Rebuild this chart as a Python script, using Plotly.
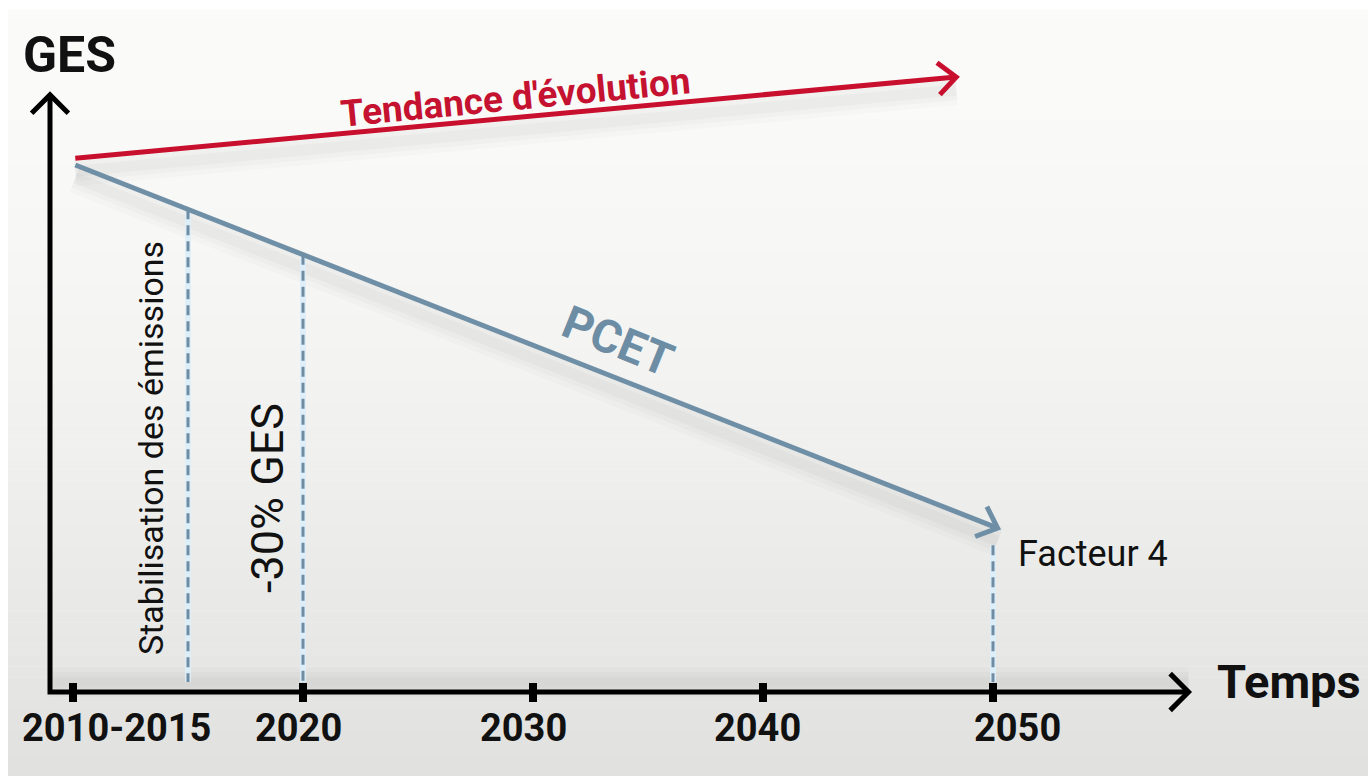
import numpy as np
import plotly.graph_objects as go

# ---------------- data ----------------
tick_years = [2010, 2020, 2030, 2040, 2050]
tick_labels = ["2010-2015", "2020", "2030", "2040", "2050"]
tick_label_shift_px = [43, -5, -10, -6, 24]

trend_years = [2010.1, 2048.4]
trend_values = [101.3, 116.7]
trend_label = "Tendance d'évolution"

pcet_years = [2010.1, 2050.2]
pcet_values = [100.0, 31.1]
pcet_label = "PCET"

milestone_years = [2015, 2020, 2050]
milestone_labels = ["Stabilisation des émissions", "-30% GES", "Facteur 4"]

axis_x_start = 2009.0
axis_x_end = 2058.5
axis_y_top = 113.3
y_title = "GES"
x_title = "Temps"

# ---------------- scales (pixel geometry) ----------------
W, H = 1368, 778
PX_PER_YEAR = 23.0
PX_PER_UNIT = 5.27
X_MIN = 2010 - 73 / PX_PER_YEAR
X_MAX = X_MIN + W / PX_PER_YEAR
Y_MIN = (692 - H) / PX_PER_UNIT
Y_MAX = Y_MIN + H / PX_PER_UNIT


def to_px(x, y):
    return (x - X_MIN) * PX_PER_YEAR, (y - Y_MIN) * PX_PER_UNIT


def from_px(px, py):
    return px / PX_PER_YEAR + X_MIN, py / PX_PER_UNIT + Y_MIN


def chevron(prev, tip, length=24, ang=42):
    """open arrow head at tip, pointing away from prev"""
    p0 = np.array(to_px(*prev))
    p1 = np.array(to_px(*tip))
    d = (p1 - p0) / np.linalg.norm(p1 - p0)
    xs, ys = [], []
    for s in (1, -1):
        a = np.radians(ang * s)
        r = np.array([[np.cos(a), -np.sin(a)], [np.sin(a), np.cos(a)]]) @ (-d)
        e = p1 + r * length
        ex, ey = from_px(*e)
        xs.append(ex)
        ys.append(ey)
    return [xs[0], tip[0], xs[1]], [ys[0], tip[1], ys[1]]


fig = go.Figure()

# ---------------- background gradient panel ----------------
shapes = []
n_bands = 70
top_c = np.array([251, 251, 250])
bot_c = np.array([225, 226, 223])
p_left = 8 / W
p_top = 1 - 10 / H
p_bot = 2 / H
for i in range(n_bands):
    t = i / (n_bands - 1)
    c = top_c + (bot_c - top_c) * (t ** 1.6)
    y1 = p_top - (p_top - p_bot) * i / n_bands
    y0 = p_top - (p_top - p_bot) * (i + 1) / n_bands
    shapes.append(dict(type="rect", xref="paper", yref="paper", x0=p_left, x1=1,
                       y0=y0, y1=y1 + 0.0005, line=dict(width=0),
                       fillcolor="rgb(%d,%d,%d)" % tuple(c.astype(int)), layer="below"))


def shadow(xs, ys, dy_px=13):
    dy = dy_px / PX_PER_UNIT
    for w, a in [(30, 0.018), (20, 0.025), (11, 0.03)]:
        fig.add_trace(go.Scatter(x=xs, y=[v - dy for v in ys], mode="lines",
                                 line=dict(color="rgba(60,60,60,%g)" % a, width=w),
                                 hoverinfo="skip", showlegend=False))


# shadows
shadow(trend_years, trend_values)
shadow(pcet_years, pcet_values)
shadow([axis_x_start, axis_x_end], [0, 0], dy_px=-10)

# ---------------- dashed milestone lines ----------------
RED = "#c8102e"
BLUE = "#6f8fa7"
DASH = "#6f8ca3"
for i, m in enumerate(milestone_years):
    top = float(np.interp(m, pcet_years, pcet_values))
    if i == len(milestone_years) - 1:
        top -= 3.6
    bottom = (692 - 682) / PX_PER_UNIT
    fig.add_trace(go.Scatter(x=[m, m], y=[top, bottom], mode="lines",
                             line=dict(color="rgba(220,238,250,0.9)", width=6),
                             hoverinfo="skip", showlegend=False))
    fig.add_trace(go.Scatter(x=[m, m], y=[top, bottom], mode="lines",
                             line=dict(color=DASH, width=3, dash="10px,6px"),
                             hoverinfo="skip", showlegend=False))

# ---------------- trend (red) ----------------
fig.add_trace(go.Scatter(x=trend_years, y=trend_values, mode="lines",
                         line=dict(color=RED, width=5), hoverinfo="skip", showlegend=False))
cx, cy = chevron((trend_years[0], trend_values[0]), (trend_years[1], trend_values[1]))
fig.add_trace(go.Scatter(x=cx, y=cy, mode="lines", line=dict(color=RED, width=5),
                         hoverinfo="skip", showlegend=False))

# ---------------- PCET (blue) ----------------
fig.add_trace(go.Scatter(x=pcet_years, y=pcet_values, mode="lines",
                         line=dict(color=BLUE, width=5), hoverinfo="skip", showlegend=False))
cx, cy = chevron((pcet_years[0], pcet_values[0]), (pcet_years[1], pcet_values[1]))
fig.add_trace(go.Scatter(x=cx, y=cy, mode="lines", line=dict(color=BLUE, width=5),
                         hoverinfo="skip", showlegend=False))

# ---------------- axes ----------------
fig.add_trace(go.Scatter(x=[axis_x_start, axis_x_start, axis_x_end], y=[axis_y_top, 0, 0],
                         mode="lines", line=dict(color="black", width=5),
                         hoverinfo="skip", showlegend=False))
cx, cy = chevron((axis_x_start, 0), (axis_x_end, 0), length=26, ang=45)
fig.add_trace(go.Scatter(x=cx, y=cy, mode="lines", line=dict(color="black", width=5),
                         hoverinfo="skip", showlegend=False))
cx, cy = chevron((axis_x_start, 0), (axis_x_start, axis_y_top), length=26, ang=45)
fig.add_trace(go.Scatter(x=cx, y=cy, mode="lines", line=dict(color="black", width=5),
                         hoverinfo="skip", showlegend=False))

# tick marks
tx, ty = [], []
for t in tick_years:
    tx += [t, t, None]
    ty += [9 / PX_PER_UNIT, -10 / PX_PER_UNIT, None]
fig.add_trace(go.Scatter(x=tx, y=ty, mode="lines", line=dict(color="black", width=8),
                         hoverinfo="skip", showlegend=False))

# ---------------- texts ----------------
FONT = "Roboto, Liberation Sans, Arial, sans-serif"
ann = []
for t, lab, sh in zip(tick_years, tick_labels, tick_label_shift_px):
    ann.append(dict(x=t, y=0, text="<b>%s</b>" % lab, showarrow=False, xanchor="center",
                    yanchor="middle", xshift=sh, yshift=-36,
                    font=dict(family=FONT, size=38, color="#111111")))

ann.append(dict(x=axis_x_start, y=axis_y_top, text="<b>%s</b>" % y_title, showarrow=False,
                xanchor="center", yanchor="middle", xshift=19, yshift=40,
                font=dict(family=FONT, size=50, color="#111111")))
ann.append(dict(x=axis_x_end, y=0, text="<b>%s</b>" % x_title, showarrow=False,
                xanchor="left", yanchor="middle", xshift=26, yshift=11,
                font=dict(family=FONT, size=47, color="#111111")))

# trend label
tl_x = from_px(515, 0)[0]
tl_y = float(np.interp(tl_x, trend_years, trend_values))
ann.append(dict(x=tl_x, y=tl_y, text="<b>%s</b>" % trend_label, showarrow=False,
                xanchor="center", yanchor="middle", yshift=20, textangle=-5.5,
                font=dict(family=FONT, size=37, color="#c41230")))

# PCET label
pl_x = from_px(618, 0)[0]
pl_y = float(np.interp(pl_x, pcet_years, pcet_values))
ann.append(dict(x=pl_x, y=pl_y, text="<b>%s</b>" % pcet_label, showarrow=False,
                xanchor="center", yanchor="middle", yshift=38, textangle=22,
                font=dict(family=FONT, size=46, color="#6d8da5")))

# milestone labels
ann.append(dict(x=milestone_years[0], y=(692 - 448) / PX_PER_UNIT, text=milestone_labels[0],
                showarrow=False, xanchor="center", yanchor="middle", xshift=-37, textangle=-90,
                font=dict(family=FONT, size=34, color="#111111")))
ann.append(dict(x=milestone_years[1], y=(692 - 498) / PX_PER_UNIT, text=milestone_labels[1],
                showarrow=False, xanchor="center", yanchor="middle", xshift=-36, textangle=-90,
                font=dict(family=FONT, size=45, color="#111111")))
ann.append(dict(x=milestone_years[2], y=pcet_values[1], text=milestone_labels[2],
                showarrow=False, xanchor="left", yanchor="middle", xshift=23, yshift=-26,
                font=dict(family=FONT, size=36, color="#111111")))

fig.update_layout(
    width=W, height=H, autosize=False,
    margin=dict(l=0, r=0, t=0, b=0, pad=0),
    paper_bgcolor="white", plot_bgcolor="rgba(0,0,0,0)",
    shapes=shapes, annotations=ann, showlegend=False,
    xaxis=dict(range=[X_MIN, X_MAX], visible=False, fixedrange=True),
    yaxis=dict(range=[Y_MIN, Y_MAX], visible=False, fixedrange=True),
)

fig.write_html("out.html", config={"displayModeBar": False},
               post_script="document.body.style.margin='0px';document.body.style.overflow='hidden';")
